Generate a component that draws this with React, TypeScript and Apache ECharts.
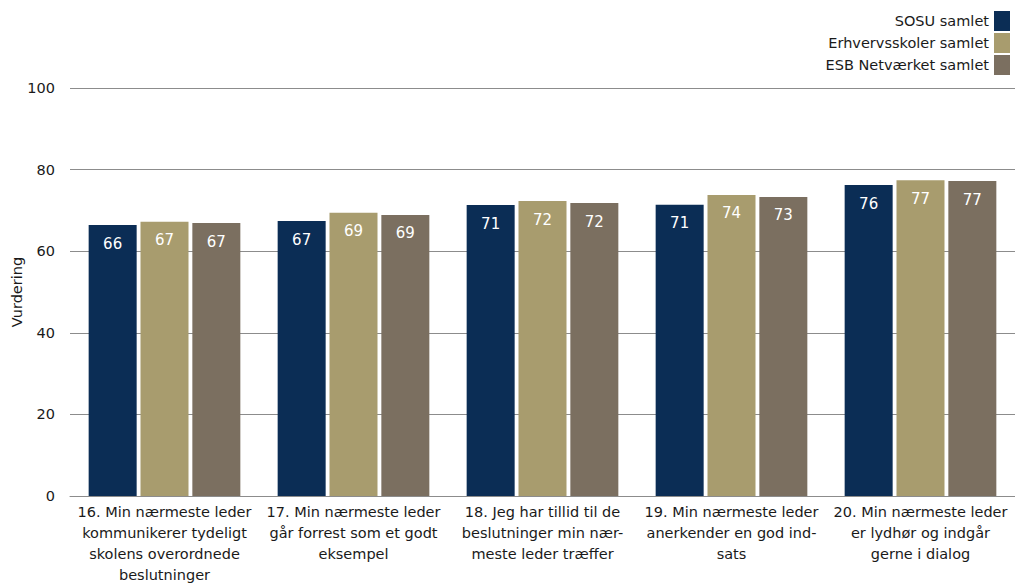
import React, { useEffect, useRef } from "react";
import * as echarts from "echarts";

const categories = [
  "16. Min nærmeste leder\nkommunikerer tydeligt\nskolens overordnede\nbeslutninger",
  "17. Min nærmeste leder\ngår forrest som et godt\neksempel",
  "18. Jeg har tillid til de\nbeslutninger min nær-\nmeste leder træffer",
  "19. Min nærmeste leder\nanerkender en god ind-\nsats",
  "20. Min nærmeste leder\ner lydhør og indgår\ngerne i dialog",
];
const seriesNames = ["SOSU samlet", "Erhvervsskoler samlet", "ESB Netværket samlet"];
const sosu = [66.4, 67.4, 71.3, 71.4, 76.2];
const erhverv = [67.2, 69.4, 72.3, 73.8, 77.4];
const esb = [66.9, 68.9, 71.8, 73.3, 77.2];
const colors = ["#0B2D55", "#A89C6E", "#7B6F60"];
const yTicks = { min: 0, max: 100, interval: 20 };
const yAxisTitle = "Vurdering";

const FONT = "DejaVu Sans";

export default function App() {
  const ref = useRef<HTMLDivElement>(null);
  useEffect(() => {
    if (!ref.current) return;
    const chart = echarts.init(ref.current, undefined, { renderer: "svg" });
    const values = [sosu, erhverv, esb];
    chart.setOption({
      animation: false,
      textStyle: { fontFamily: FONT },
      graphic: [
        {
          type: "text",
          x: 17,
          y: 292,
          rotation: Math.PI / 2,
          style: {
            text: yAxisTitle,
            align: "center",
            verticalAlign: "middle",
            fontSize: 14.5,
            fontFamily: FONT,
            fill: "#1a1a1a",
          },
        },
      ],
      legend: {
        orient: "vertical",
        right: 0,
        top: 6,
        align: "right",
        itemWidth: 16,
        itemHeight: 20,
        itemGap: 2,
        itemTextGap: 9,
        icon: "rect",
        textStyle: { fontSize: 14.5, color: "#1a1a1a", fontFamily: FONT },
        data: seriesNames,
      },
      grid: {
        left: 70,
        right: 0,
        top: 88,
        bottom: 87,
        containLabel: false,
        outerBoundsMode: "none",
      },
      xAxis: {
        type: "category",
        data: categories,
        axisTick: { show: false },
        axisLine: { lineStyle: { color: "#8c8c8c", width: 1 } },
        axisLabel: {
          interval: 0,
          fontSize: 14.5,
          color: "#1a1a1a",
          lineHeight: 21,
          margin: 5,
          fontFamily: FONT,
        },
      },
      yAxis: {
        type: "value",
        min: yTicks.min,
        max: yTicks.max,
        interval: yTicks.interval,
        axisLabel: { fontSize: 14.5, color: "#1a1a1a", margin: 15, fontFamily: FONT },
        splitLine: { lineStyle: { color: "#8c8c8c", width: 1 } },
        axisLine: { show: false },
        axisTick: { show: false },
      },
      series: seriesNames.map((name, i) => ({
        name,
        type: "bar",
        data: values[i],
        barWidth: 48,
        barGap: "8%",
        itemStyle: { color: colors[i] },
        label: {
          show: true,
          position: "insideTop",
          distance: 11,
          color: "#ffffff",
          fontSize: 15,
          fontFamily: FONT,
          formatter: (p: any) => String(Math.round(p.value)),
        },
      })),
    });
    return () => chart.dispose();
  }, []);
  return <div ref={ref} style={{ width: 1015, height: 583, position: "absolute", left: 0, top: 0 }} />;
}
